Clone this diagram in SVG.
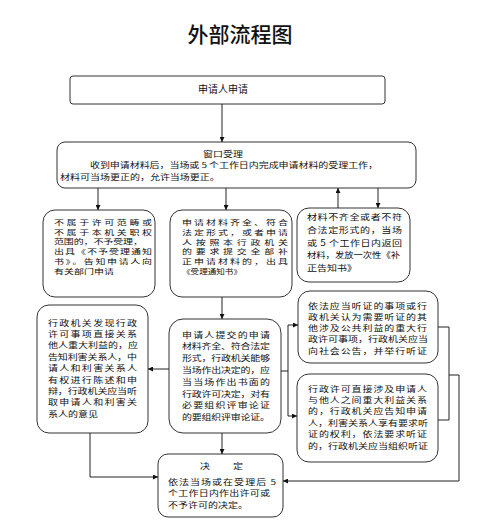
<svg xmlns="http://www.w3.org/2000/svg" width="500" height="529" viewBox="0 0 500 529">
<style>
.box{fill:#fff;stroke:#333;stroke-width:1}
.t{font-family:"Noto Sans CJK SC","Noto Sans",sans-serif;font-size:10px;fill:#111}
.title{font-family:"Noto Sans CJK SC",sans-serif;font-size:21px;font-weight:500;fill:#111}
.c{fill:none;stroke:#222;stroke-width:1}
</style>
<defs>
<marker id="ah" viewBox="0 0 8 8" refX="8" refY="4" markerWidth="5" markerHeight="5" orient="auto" markerUnits="userSpaceOnUse">
<path d="M0,0 L8,4 L0,8 z" fill="#111"/>
</marker>
</defs>
<rect width="500" height="529" fill="#fff"/>
<text class="title" x="240" y="42" text-anchor="middle">外部流程图</text>

<g id="n-apply">
<rect class="box" x="70" y="76" width="315" height="28" rx="3"/>
<text class="t" x="223" y="93" text-anchor="middle">申请人申请</text>
</g>

<g id="n-window">
<rect class="box" x="57" y="142" width="359" height="46" rx="8"/>
<g class="t">
<text x="203" y="0" transform="translate(0,156.5) scale(1,0.75)" textLength="40" lengthAdjust="spacing">窗口受理</text>
<text x="90" y="0" transform="translate(0,168) scale(1,0.75)" textLength="288" lengthAdjust="spacing">收到申请材料后，当场或 5 个工作日内完成申请材料的受理工作，</text>
<text x="60" y="0" transform="translate(0,180) scale(1,0.75)">材料可当场更正的，允许当场更正。</text>
</g>
</g>

<g id="n-reject">
<rect class="box" x="43" y="210" width="112" height="87" rx="12"/>
<g class="t">
<text x="54" y="0" transform="translate(0,225) scale(1,0.65)" textLength="98" lengthAdjust="spacing">不属于许可范畴或</text>
<text x="54" y="0" transform="translate(0,234.7) scale(1,0.65)" textLength="98" lengthAdjust="spacing">不属于本机关职权</text>
<text x="54" y="0" transform="translate(0,244.4) scale(1,0.65)" textLength="89" lengthAdjust="spacing">范围的，不予受理，</text>
<text x="54" y="0" transform="translate(0,254.1) scale(1,0.65)" textLength="98" lengthAdjust="spacing">出具《不予受理通知</text>
<text x="54" y="0" transform="translate(0,263.8) scale(1,0.65)" textLength="98" lengthAdjust="spacing">书》。告知申请人向</text>
<text x="54" y="0" transform="translate(0,273.5) scale(1,0.65)">有关部门申请</text>
</g>
</g>

<g id="n-accept">
<rect class="box" x="170" y="210" width="122" height="87" rx="12"/>
<g class="t">
<text x="182" y="0" transform="translate(0,225) scale(1,0.65)" textLength="106" lengthAdjust="spacing">申请材料齐全、符合</text>
<text x="182" y="0" transform="translate(0,234.8) scale(1,0.65)" textLength="106" lengthAdjust="spacing">法定形式，或者申请</text>
<text x="182" y="0" transform="translate(0,244.6) scale(1,0.65)" textLength="106" lengthAdjust="spacing">人按照本行政机关</text>
<text x="182" y="0" transform="translate(0,254.4) scale(1,0.65)" textLength="106" lengthAdjust="spacing">的要求提交全部补</text>
<text x="182" y="0" transform="translate(0,264.2) scale(1,0.65)" textLength="106" lengthAdjust="spacing">正申请材料的，出具</text>
<text x="182" y="0" transform="translate(0,274) scale(1,0.65)" textLength="60" lengthAdjust="spacingAndGlyphs">《受理通知书》</text>
</g>
</g>

<g id="n-incomplete">
<rect class="box" x="297" y="208" width="113" height="74" rx="12"/>
<g class="t">
<text x="307" y="0" transform="translate(0,220) scale(1,0.85)" textLength="95" lengthAdjust="spacing">材料不齐全或者不符</text>
<text x="307" y="0" transform="translate(0,232.8) scale(1,0.85)" textLength="95" lengthAdjust="spacing">合法定形式的，当场</text>
<text x="307" y="0" transform="translate(0,245.6) scale(1,0.85)" textLength="95" lengthAdjust="spacing">或 5 个工作日内返回</text>
<text x="307" y="0" transform="translate(0,258.4) scale(1,0.85)" textLength="93" lengthAdjust="spacingAndGlyphs">材料，发放一次性《补</text>
<text x="307" y="0" transform="translate(0,271.2) scale(1,0.85)">正告知书》</text>
</g>
</g>

<g id="n-interested">
<rect class="box" x="37" y="305" width="111" height="128" rx="12"/>
<g class="t">
<text x="48" y="0" transform="translate(0,325.5) scale(1,0.76)" textLength="89" lengthAdjust="spacing">行政机关发现行政</text>
<text x="48" y="0" transform="translate(0,336.9) scale(1,0.76)" textLength="89" lengthAdjust="spacing">许可事项直接关系</text>
<text x="48" y="0" transform="translate(0,348.3) scale(1,0.76)" textLength="90" lengthAdjust="spacing">他人重大利益的，应</text>
<text x="48" y="0" transform="translate(0,359.7) scale(1,0.76)" textLength="89" lengthAdjust="spacing">告知利害关系人，中</text>
<text x="48" y="0" transform="translate(0,371.1) scale(1,0.76)" textLength="89" lengthAdjust="spacing">请人和利害关系人</text>
<text x="48" y="0" transform="translate(0,382.5) scale(1,0.76)" textLength="89" lengthAdjust="spacing">有权进行陈述和申</text>
<text x="48" y="0" transform="translate(0,393.9) scale(1,0.76)" textLength="89" lengthAdjust="spacing">辩，行政机关应当听</text>
<text x="48" y="0" transform="translate(0,405.3) scale(1,0.76)" textLength="89" lengthAdjust="spacing">取申请人和利害关</text>
<text x="48" y="0" transform="translate(0,416.7) scale(1,0.76)">系人的意见</text>
</g>
</g>

<g id="n-complete">
<rect class="box" x="169" y="319" width="112" height="114" rx="14"/>
<g class="t">
<text x="182" y="0" transform="translate(0,337.5) scale(1,0.78)" textLength="88" lengthAdjust="spacing">申请人提交的申请</text>
<text x="182" y="0" transform="translate(0,349.3) scale(1,0.78)" textLength="88" lengthAdjust="spacing">材料齐全、符合法定</text>
<text x="182" y="0" transform="translate(0,361.1) scale(1,0.78)" textLength="88" lengthAdjust="spacing">形式，行政机关能够</text>
<text x="182" y="0" transform="translate(0,372.9) scale(1,0.78)" textLength="88" lengthAdjust="spacing">当场作出决定的，应</text>
<text x="182" y="0" transform="translate(0,384.7) scale(1,0.78)" textLength="88" lengthAdjust="spacing">当当场作出书面的</text>
<text x="182" y="0" transform="translate(0,396.5) scale(1,0.78)" textLength="88" lengthAdjust="spacing">行政许可决定，对有</text>
<text x="182" y="0" transform="translate(0,408.3) scale(1,0.78)" textLength="88" lengthAdjust="spacing">必要组织评审论证</text>
<text x="182" y="0" transform="translate(0,420.1) scale(1,0.78)" textLength="88" lengthAdjust="spacing">的要组织评审论证。</text>
</g>
</g>

<g id="n-hearing-public">
<rect class="box" x="298" y="291" width="140" height="72" rx="12"/>
<g class="t">
<text x="308" y="0" transform="translate(0,308.5) scale(1,0.75)" textLength="119" lengthAdjust="spacing">依法应当听证的事项或行</text>
<text x="308" y="0" transform="translate(0,319.8) scale(1,0.75)" textLength="119" lengthAdjust="spacing">政机关认为需要听证的其</text>
<text x="308" y="0" transform="translate(0,331.1) scale(1,0.75)" textLength="119" lengthAdjust="spacing">他涉及公共利益的重大行</text>
<text x="308" y="0" transform="translate(0,342.4) scale(1,0.75)" textLength="120" lengthAdjust="spacingAndGlyphs">政许可事项，行政机关应当</text>
<text x="308" y="0" transform="translate(0,353.7) scale(1,0.75)" textLength="119" lengthAdjust="spacing">向社会公告，并举行听证</text>
</g>
</g>

<g id="n-hearing-party">
<rect class="box" x="297" y="374" width="141" height="88" rx="12"/>
<g class="t">
<text x="308" y="0" transform="translate(0,391.5) scale(1,0.75)" textLength="119" lengthAdjust="spacing">行政许可直接涉及申请人</text>
<text x="308" y="0" transform="translate(0,402.9) scale(1,0.75)" textLength="119" lengthAdjust="spacing">与他人之间重大利益关系</text>
<text x="308" y="0" transform="translate(0,414.3) scale(1,0.75)" textLength="119" lengthAdjust="spacing">的，行政机关应告知申请</text>
<text x="308" y="0" transform="translate(0,425.7) scale(1,0.75)" textLength="120" lengthAdjust="spacingAndGlyphs">人，利害关系人享有要求听</text>
<text x="308" y="0" transform="translate(0,437.1) scale(1,0.75)" textLength="119" lengthAdjust="spacing">证的权利，依法要求听证</text>
<text x="308" y="0" transform="translate(0,448.5) scale(1,0.75)" textLength="120" lengthAdjust="spacingAndGlyphs">的，行政机关应当组织听证</text>
</g>
</g>

<g id="n-decision">
<rect class="box" x="158" y="454" width="125" height="63" rx="10"/>
<g class="t">
<text x="200" y="0" transform="translate(0,469) scale(1,0.75)">决</text>
<text x="233" y="0" transform="translate(0,469) scale(1,0.75)">定</text>
<text x="168" y="0" transform="translate(0,484.5) scale(1,0.75)" textLength="108" lengthAdjust="spacing">依法当场或在受理后 5</text>
<text x="168" y="0" transform="translate(0,496) scale(1,0.75)" textLength="102" lengthAdjust="spacing">个工作日内作出许可或</text>
<text x="168" y="0" transform="translate(0,507.5) scale(1,0.75)">不予许可的决定。</text>
</g>
</g>

<g id="connectors">
<path class="c" d="M222,104 V142" marker-end="url(#ah)"/>
<path class="c" d="M98,188 V210" marker-end="url(#ah)"/>
<path class="c" d="M226,188 V210" marker-end="url(#ah)"/>
<path class="c" d="M338,208 V188" marker-end="url(#ah)"/>
<path class="c" d="M378,188 V208" marker-end="url(#ah)"/>
<path class="c" d="M222,297 V319" marker-end="url(#ah)"/>
<path class="c" d="M222,433 V454" marker-end="url(#ah)"/>
<path class="c" d="M169,369 H148" marker-end="url(#ah)"/>
<path class="c" d="M281,371 H288"/>
<path class="c" d="M288,325 V416"/>
<path class="c" d="M288,325 H298" marker-end="url(#ah)"/>
<path class="c" d="M288,416 H297" marker-end="url(#ah)"/>
<path class="c" d="M438,327 H449 V420 H438"/>
<path class="c" d="M449,375 H459 V481 H283" marker-end="url(#ah)"/>
<path class="c" d="M90,433 V477 H158" marker-end="url(#ah)"/>
</g>
</svg>
